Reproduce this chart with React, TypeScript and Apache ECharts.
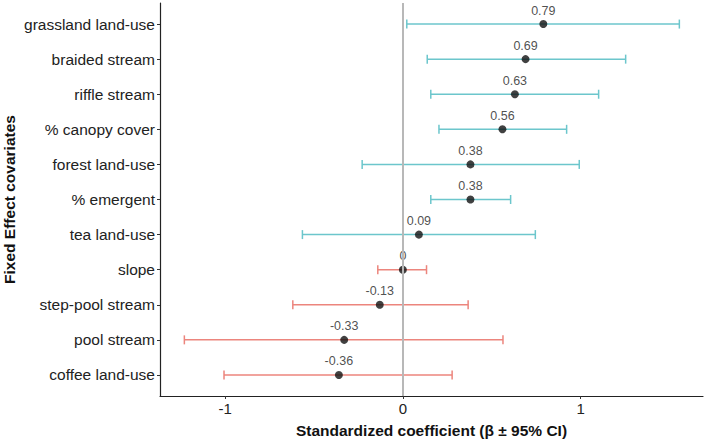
import React, { useEffect, useRef } from "react";
import * as echarts from "echarts";

// Covariates listed bottom-to-top (index 0 sits at the bottom of the plot)
const covariates = [
  "coffee land-use",
  "pool stream",
  "step-pool stream",
  "slope",
  "tea land-use",
  "% emergent",
  "forest land-use",
  "% canopy cover",
  "riffle stream",
  "braided stream",
  "grassland land-use",
];
const estimates = [-0.36, -0.33, -0.13, 0, 0.09, 0.38, 0.38, 0.56, 0.63, 0.69, 0.79];
const lowerCI = [-1.006, -1.229, -0.619, -0.141, -0.565, 0.157, -0.229, 0.203, 0.157, 0.137, 0.022];
const upperCI = [0.277, 0.563, 0.367, 0.133, 0.745, 0.606, 0.992, 0.921, 1.101, 1.253, 1.555];
const xTicks = [-1, 0, 1];

const POS_COLOR = "#6cc6cc";
const NEG_COLOR = "#ec857d";
const FONT = "Liberation Sans, Arial, Helvetica, sans-serif";

export default function App() {
  const ref = useRef<HTMLDivElement>(null);

  useEffect(() => {
    if (!ref.current) return;
    const chart = echarts.init(ref.current, null, { renderer: "svg" });

    const barData = covariates.map((_, i) => [i, lowerCI[i], upperCI[i], estimates[i]]);
    const pointData = covariates.map((_, i) => [estimates[i], i]);

    chart.setOption({
      animation: false,
      backgroundColor: "#ffffff",
      grid: {
        left: 160,
        right: 6,
        top: 3,
        bottom: 45,
        containLabel: false,
        outerBoundsMode: "none",
      },
      xAxis: {
        type: "value",
        min: -1.366,
        max: 1.688,
        name: "Standardized coefficient (β ± 95% CI)",
        nameLocation: "middle",
        nameGap: 26,
        nameMoveOverlap: false,
        nameTextStyle: { fontFamily: FONT, fontSize: 15.5, fontWeight: "bold", color: "#111" },
        axisLine: { show: true, onZero: false, lineStyle: { color: "#222", width: 1.2 } },
        axisTick: { show: true, customValues: xTicks, length: 3, lineStyle: { color: "#333" } },
        axisLabel: {
          customValues: xTicks,
          fontFamily: FONT,
          fontSize: 15,
          color: "#222",
          margin: 5,
        },
        splitLine: { show: false },
      },
      yAxis: {
        type: "value",
        min: -0.6,
        max: 10.6,
        name: "Fixed Effect covariates",
        nameLocation: "middle",
        nameGap: 143,
        nameMoveOverlap: false,
        nameRotate: 90,
        nameTextStyle: { fontFamily: FONT, fontSize: 15.5, fontWeight: "bold", color: "#111" },
        axisLine: { show: true, onZero: false, lineStyle: { color: "#222", width: 1.2 } },
        axisTick: {
          show: true,
          customValues: covariates.map((_, i) => i),
          length: 3,
          lineStyle: { color: "#333" },
        },
        axisLabel: {
          customValues: covariates.map((_, i) => i),
          formatter: (v: number) => covariates[Math.round(v)] ?? "",
          fontFamily: FONT,
          fontSize: 15.5,
          color: "#222",
          margin: 5,
        },
        splitLine: { show: false },
      },
      series: [
        {
          type: "custom",
          z: 2,
          silent: true,
          renderItem: (params: any, api: any) => {
            const yi = api.value(0);
            const lo = api.coord([api.value(1), yi]);
            const hi = api.coord([api.value(2), yi]);
            const color = api.value(3) > 0.05 ? POS_COLOR : NEG_COLOR;
            const cap = 4.5;
            const style = { stroke: color, lineWidth: 1.5 };
            return {
              type: "group",
              children: [
                { type: "line", shape: { x1: lo[0], y1: lo[1], x2: hi[0], y2: hi[1] }, style },
                { type: "line", shape: { x1: lo[0], y1: lo[1] - cap, x2: lo[0], y2: lo[1] + cap }, style },
                { type: "line", shape: { x1: hi[0], y1: hi[1] - cap, x2: hi[0], y2: hi[1] + cap }, style },
              ],
            };
          },
          encode: { x: [1, 2], y: 0 },
          data: barData,
          markLine: {
            silent: true,
            symbol: "none",
            label: { show: false },
            lineStyle: { color: "#b8b8b8", width: 2, type: "solid" },
            data: [{ xAxis: 0 }],
          },
        },
        {
          type: "scatter",
          z: 3,
          silent: true,
          symbol: "circle",
          symbolSize: 8,
          itemStyle: { color: "#111" },
          label: {
            show: true,
            position: "top",
            distance: 3,
            formatter: (p: any) => String(p.value[0]),
            fontFamily: FONT,
            fontSize: 12.5,
            color: "#222",
          },
          data: pointData,
        },
      ],
    });

    return () => chart.dispose();
  }, []);

  return (
    <div
      ref={ref}
      style={{ position: "fixed", left: 0, top: 0, width: 709, height: 441 }}
    />
  );
}
